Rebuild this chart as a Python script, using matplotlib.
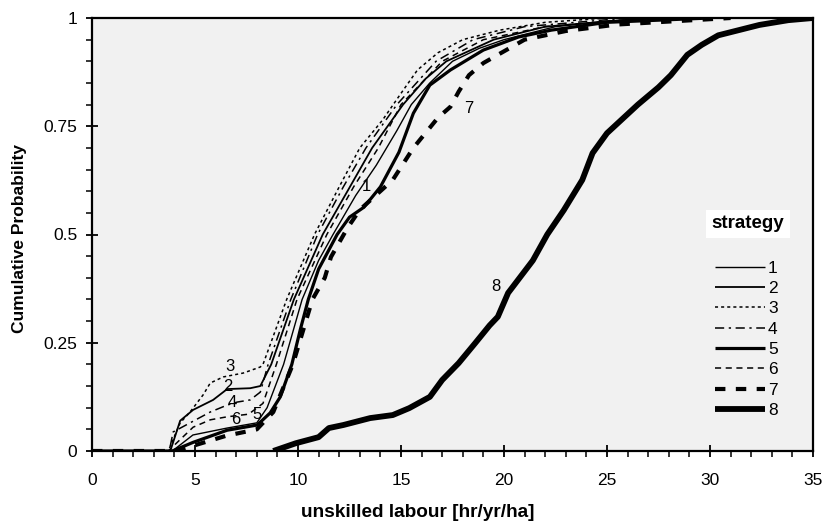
import matplotlib
matplotlib.use("Agg")
import matplotlib.pyplot as plt
from matplotlib.ticker import MultipleLocator, FixedLocator

plt.rcParams['font.family'] = ['Liberation Sans', 'DejaVu Sans']

# Cumulative distributions of unskilled labour per strategy
x1 = [0, 3.9, 4.9, 6.56, 8.0, 8.5, 9.3, 10.2, 11.0, 11.7, 12.8, 13.8, 14.8, 15.5, 16.4, 17.5, 18.8, 20.0, 22.5, 25.0, 28.0]
p1 = [0, 0, 0.037, 0.053, 0.065, 0.10, 0.20, 0.35, 0.44, 0.50, 0.59, 0.66, 0.74, 0.80, 0.85, 0.90, 0.93, 0.95, 0.98, 0.993, 1.0]

x2 = [0, 3.8, 4.28, 4.91, 5.88, 6.37, 6.56, 7.68, 8.17, 8.7, 9.8, 11.2, 12.4, 13.6, 15.1, 16.2, 17.2, 19.5, 22.0, 27.0]
p2 = [0, 0, 0.07, 0.095, 0.118, 0.136, 0.143, 0.145, 0.15, 0.20, 0.35, 0.50, 0.60, 0.70, 0.80, 0.86, 0.90, 0.95, 0.98, 1.0]

x3 = [0, 3.7, 4.28, 4.76, 5.4, 5.74, 6.37, 7.34, 8.17, 8.3, 9.45, 10.8, 12.0, 13.0, 14.1, 15.0, 15.8, 16.8, 18.0, 19.8, 22.0, 25.0]
p3 = [0, 0, 0.065, 0.09, 0.13, 0.157, 0.171, 0.18, 0.194, 0.20, 0.35, 0.50, 0.61, 0.70, 0.764, 0.826, 0.88, 0.92, 0.95, 0.972, 0.99, 1.0]

x4 = [0, 3.75, 3.94, 4.76, 5.74, 6.56, 7.05, 7.68, 8.17, 8.55, 9.65, 10.95, 12.2, 13.3, 14.8, 16.7, 18.5, 21.0, 26.0]
p4 = [0, 0, 0.044, 0.065, 0.09, 0.106, 0.113, 0.118, 0.136, 0.20, 0.35, 0.50, 0.61, 0.70, 0.80, 0.90, 0.95, 0.98, 1.0]

x5 = [0, 3.9, 4.91, 6.56, 8.02, 8.65, 9.14, 9.7, 10.11, 10.5, 11.0, 11.9, 12.5, 13.2, 14.0, 14.9, 15.6, 16.4, 17.4, 19.0, 20.7, 22.3, 25.0, 30.0]
p5 = [0, 0, 0.02, 0.048, 0.06, 0.088, 0.125, 0.20, 0.28, 0.35, 0.42, 0.50, 0.54, 0.563, 0.61, 0.69, 0.78, 0.845, 0.88, 0.926, 0.956, 0.972, 0.99, 1.0]

x6 = [0, 3.7, 4.91, 5.74, 6.56, 7.6, 8.3, 8.95, 9.95, 11.4, 12.7, 13.9, 15.0, 17.0, 19.0, 22.0, 27.0]
p6 = [0, 0, 0.055, 0.072, 0.079, 0.085, 0.11, 0.20, 0.35, 0.50, 0.61, 0.70, 0.80, 0.90, 0.95, 0.98, 1.0]

x7 = [0, 4.0, 4.9, 6.5, 8.0, 8.8, 9.75, 10.7, 11.3, 11.6, 12.4, 13.0, 14.6, 15.6, 16.8, 17.4, 17.8, 18.3, 19.0, 19.7, 21.0, 23.0, 25.5, 31.0]
p7 = [0, 0, 0.012, 0.035, 0.05, 0.09, 0.20, 0.35, 0.40, 0.448, 0.515, 0.557, 0.626, 0.70, 0.77, 0.795, 0.83, 0.868, 0.896, 0.915, 0.95, 0.97, 0.985, 1.0]

x8 = [8.8, 9.9, 11.0, 11.5, 12.2, 13.5, 14.6, 15.4, 16.4, 17.0, 17.8, 18.6, 19.3, 19.7, 20.2, 21.4, 22.1, 22.9, 23.8, 24.3, 25.0, 26.5, 27.5, 28.1, 28.9, 29.6, 30.4, 32.4, 33.8, 35.0]
p8 = [0, 0.018, 0.032, 0.053, 0.06, 0.076, 0.083, 0.099, 0.125, 0.164, 0.203, 0.249, 0.29, 0.31, 0.365, 0.44, 0.50, 0.556, 0.626, 0.688, 0.734, 0.80, 0.84, 0.868, 0.915, 0.938, 0.96, 0.984, 0.995, 1.0]

strategies = ['1', '2', '3', '4', '5', '6', '7', '8']
xs = [x1, x2, x3, x4, x5, x6, x7, x8]
ps = [p1, p2, p3, p4, p5, p6, p7, p8]

# Curve labels placed beside the lines
label_x = [13.3, 6.6, 6.7, 6.8, 8.0, 7.0, 18.3, 19.6]
label_p = [0.61, 0.148, 0.194, 0.111, 0.085, 0.072, 0.79, 0.38]

styles = [
    dict(lw=1.0, ls='-'),
    dict(lw=1.3, ls='-'),
    dict(lw=1.1, ls=(0, (2, 2))),
    dict(lw=1.1, ls=(0, (6, 3, 1.5, 3))),
    dict(lw=2.3, ls='-'),
    dict(lw=1.1, ls=(0, (4, 3))),
    dict(lw=3.0, ls=(0, (2.5, 2.5))),
    dict(lw=4.2, ls='-'),
]

fig = plt.figure(figsize=(8.25, 5.26), dpi=100)
ax = fig.add_axes([92 / 825, 1 - 451 / 526, (813 - 92) / 825, (451 - 18) / 526])
ax.set_facecolor('#f1f1f1')

for name, xv, pv, st in zip(strategies, xs, ps, styles):
    ax.plot(xv, pv, color='black', label=name, solid_capstyle='butt',
            dash_capstyle='butt', **st)

for name, lx, lp in zip(strategies, label_x, label_p):
    ax.text(lx, lp, name, fontsize=12, ha='center', va='center', color='black')

ax.set_xlim(0, 35)
ax.set_ylim(0, 1)
ax.xaxis.set_major_locator(MultipleLocator(5))
ax.xaxis.set_minor_locator(MultipleLocator(1))
ax.yaxis.set_major_locator(FixedLocator([0, 0.25, 0.5, 0.75, 1.0]))
ax.yaxis.set_minor_locator(MultipleLocator(0.05))
ax.set_yticklabels(['0', '0.25', '0.5', '0.75', '1'])

ax.tick_params(axis='both', which='major', labelsize=12.5, direction='inout',
               length=9, width=1.3, colors='black')
ax.tick_params(axis='both', which='minor', direction='out', length=4, width=1.1)
ax.tick_params(axis='x', which='major', pad=11)
ax.tick_params(axis='y', which='major', pad=6)

for side in ['top', 'bottom', 'left', 'right']:
    ax.spines[side].set_linewidth(1.6)

ax.set_xlabel('unskilled labour [hr/yr/ha]', fontsize=13.7, fontweight='bold')
ax.xaxis.set_label_coords(0.452, -0.122)
ax.set_ylabel('Cumulative Probability', fontsize=12.5, fontweight='bold')
ax.yaxis.set_label_coords(-0.09, 0.49)

ax.text(0.91, 0.525, 'strategy', transform=ax.transAxes, fontsize=13.5,
        fontweight='bold', ha='center', va='center',
        bbox=dict(facecolor='white', edgecolor='none', pad=4))

leg = ax.legend(loc='upper left', bbox_to_anchor=(0.864, 0.44), frameon=False,
                fontsize=12.5, handlelength=2.9, handletextpad=0.15,
                labelspacing=0.30, borderpad=0, borderaxespad=0)

fig.savefig('out.png', dpi=100)
